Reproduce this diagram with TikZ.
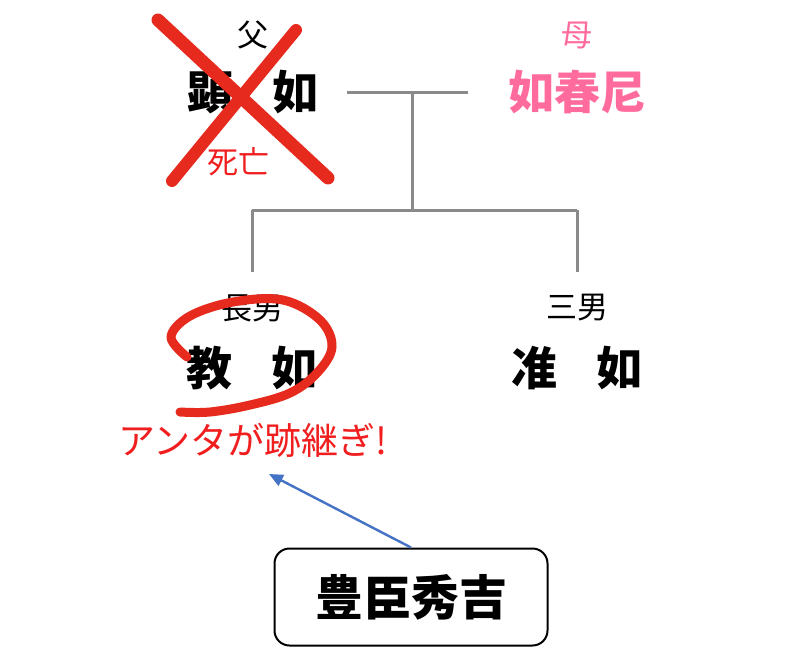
\documentclass[tikz,border=0pt]{standalone}
\usepackage{fontspec}
\setmainfont{Noto Sans CJK JP}
\usepackage{tikz}
\usetikzlibrary{
  positioning,
  calc,
  arrows.meta
}
\definecolor{akafude}{HTML}{E62A1E}
\definecolor{aka}{HTML}{F01E1E}
\definecolor{momo}{HTML}{FF6B9D}
\definecolor{hai}{HTML}{8A8A8A}
\definecolor{ao}{HTML}{4472C4}
\tikzstyle{namae}=[font=\fontsize{46}{50}\selectfont\bfseries, inner sep=0pt]
\tikzstyle{zokugara}=[font=\fontsize{31}{34}\selectfont, inner sep=0pt]
\tikzstyle{keizu}=[draw=hai, line width=3pt]
\tikzstyle{fude}=[draw=akafude, line cap=round, line join=round]

\begin{document}
\begin{tikzpicture}[x=1pt, y=-1pt]
    \useasboundingbox (0,0) rectangle (800,664);

    % 父と母
    \node[zokugara] (chichi) at (253,35) {父};
    \node[namae] (kennyo) at (253,92) {顕\hspace{0.85em}如};
    \node[zokugara, text=momo] (haha) at (577,35) {母};
    \node[namae, text=momo] (nyoshunni) at (577,92) {如春尼};

    % 子
    \node[zokugara] (chounan) at (252,308) {長男};
    \node[namae] (kyounyo) at (252,368) {教\hspace{0.85em}如};
    \node[zokugara] (sannan) at (577,308) {三男};
    \node[namae] (junnyo) at (577,368) {准\hspace{0.85em}如};

    % 系図の線
    \coordinate (fuufu) at (412,92);
    \coordinate (bunki) at (412,210);
    \coordinate (hidari) at (252,210);
    \coordinate (migi) at (577,210);
    \draw[keizu] (347,92) -- (468,92);
    \draw[keizu] (fuufu) -- (bunki);
    \draw[keizu] (hidari) -- (migi);
    \draw[keizu] (hidari) -- (chounan.north |- 0,272);
    \draw[keizu] (migi) -- (sannan.north |- 0,272);

    % 死亡のバツ印
    \draw[fude, line width=13pt] (158,20) -- (328,178);
    \draw[fude, line width=12pt] (296,30) -- (172,181);
    \node[zokugara, text=aka] (shibou) at (238,162) {死亡};

    % 跡継ぎの丸
    \draw[fude, line width=9pt] plot[smooth, tension=0.6] coordinates {
      (187,357) (171,337) (190,316) (233,302) (283,300) (320,320)
      (332,347) (317,373) (290,393) (250,405) (210,412) (180,412)};
    \node[font=\fontsize{37}{40}\selectfont, text=aka, inner sep=0pt] (atotsugi) at (253,440) {アンタが跡継ぎ!};

    % 秀吉
    \node[draw, line width=2pt, rounded corners=15pt, minimum width=273pt,
          minimum height=97pt, font=\fontsize{48}{52}\selectfont\bfseries]
          (hideyoshi) at (411,597) {豊臣秀吉};
    \coordinate (yasaki) at (269,474);
    \draw[ao, line width=2.4pt, -{Triangle[length=14pt, width=12pt]}]
      (hideyoshi.north) -- (yasaki);
\end{tikzpicture}
\end{document}
